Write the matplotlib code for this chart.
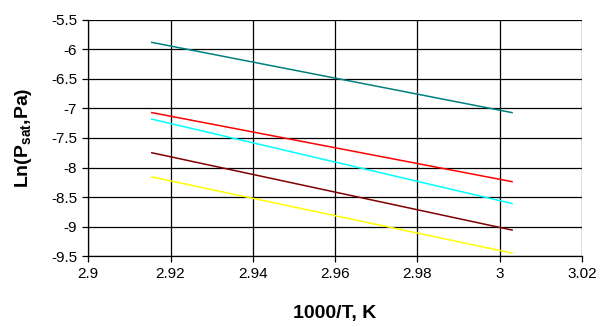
import numpy as np
import matplotlib
matplotlib.use('Agg')
import matplotlib.pyplot as plt

plt.rcParams['font.family'] = ['Liberation Sans', 'DejaVu Sans']
plt.rcParams['mathtext.fontset'] = 'custom'
plt.rcParams['mathtext.rm'] = 'Liberation Sans:bold'
plt.rcParams['mathtext.it'] = 'Liberation Sans:bold'
plt.rcParams['mathtext.bf'] = 'Liberation Sans:bold'

# 1000/T for T = 343 K and 333 K
inv_t = [1000 / 343.0, 1000 / 333.0]

teal_vals = [-5.88, -7.07]
red_vals = [-7.07, -8.24]
cyan_vals = [-7.18, -8.61]
darkred_vals = [-7.75, -9.06]
yellow_vals = [-8.16, -9.45]

series = [
    (teal_vals, '#008080'),
    (red_vals, '#ff0000'),
    (cyan_vals, '#00ffff'),
    (darkred_vals, '#800000'),
    (yellow_vals, '#ffff00'),
]

fig = plt.figure(figsize=(6, 3.27), dpi=100)
ax = fig.add_axes([0.147, 0.217, 0.823, 0.722])

for vals, col in series:
    ax.plot(inv_t, vals, color=col, linewidth=1.1)

ax.set_xlim(2.9, 3.02)
ax.set_ylim(-9.5, -5.5)
ax.set_xticks(np.arange(2.9, 3.0201, 0.02))
ax.set_xticklabels(['2.9', '2.92', '2.94', '2.96', '2.98', '3', '3.02'])
ax.set_yticks(np.arange(-9.5, -5.49, 0.5))
ax.set_yticklabels(['-9.5', '-9', '-8.5', '-8', '-7.5', '-7', '-6.5', '-6', '-5.5'])
ax.grid(True, color='black', linewidth=0.9)
ax.set_axisbelow(True)
for s in ['top', 'right']:
    ax.spines[s].set_visible(False)
for s in ['left', 'bottom']:
    ax.spines[s].set_linewidth(0.9)
ax.tick_params(direction='out', length=4, width=0.9, labelsize=11, pad=4)

ax.set_xlabel('1000/T, K', fontsize=14, fontweight='bold', va='center')
ax.set_ylabel(r'Ln(P$_{\mathrm{sat}}$,Pa)', fontsize=14, fontweight='bold', va='center')
ax.xaxis.set_label_coords(0.5, -0.245)
ax.yaxis.set_label_coords(-0.131, 0.5)

fig.savefig('out.png', dpi=100, facecolor='white')
